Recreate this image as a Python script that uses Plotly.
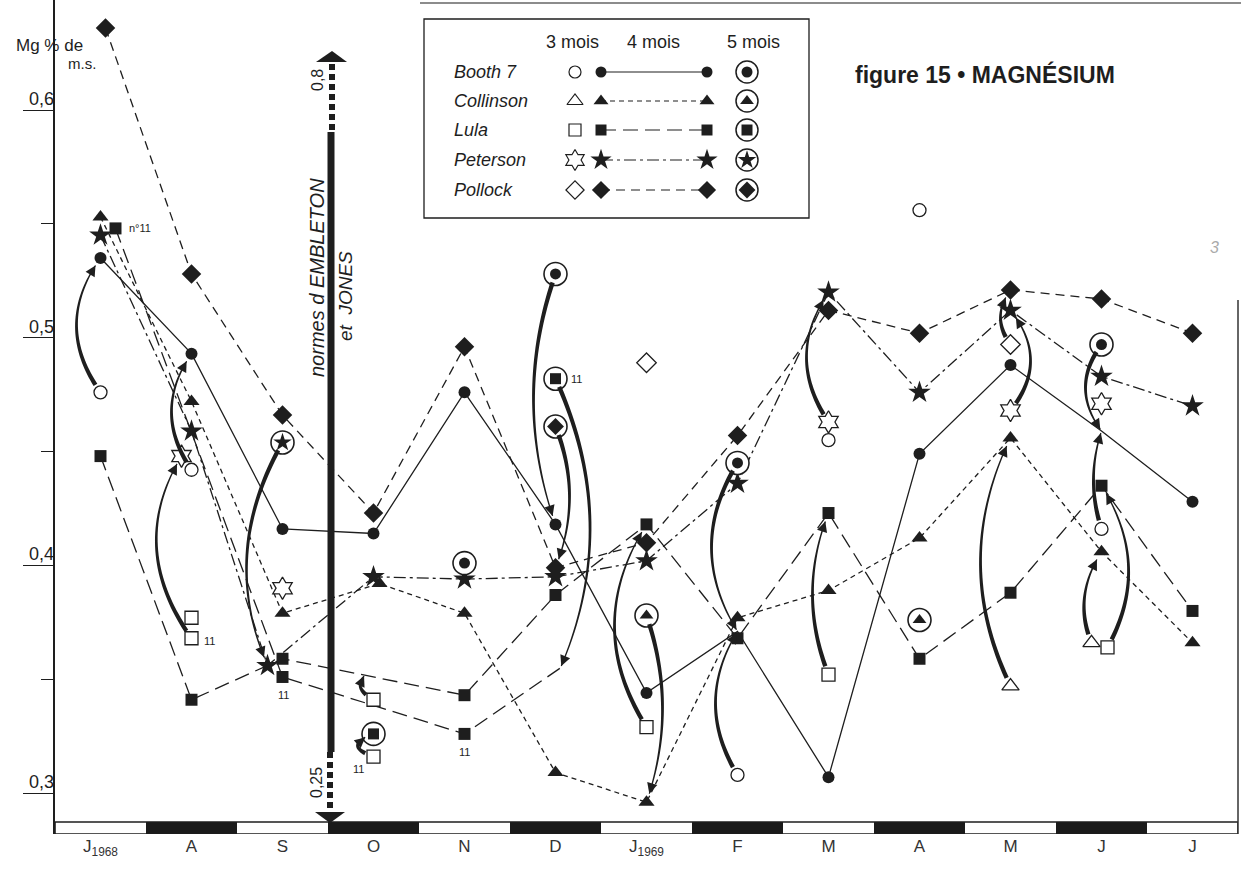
import numpy as np
import plotly.graph_objects as go

# ---------------- data ----------------
months = ["J<sub>1968</sub>", "A", "S", "O", "N", "D", "J<sub>1969</sub>",
          "F", "M", "A", "M", "J", "J"]
varieties = ["Booth 7", "Collinson", "Lula", "Peterson", "Pollock"]
age_labels = ["3 mois", "4 mois", "5 mois"]
ytick_vals = [0.3, 0.4, 0.5, 0.6]
ytick_text = ["0,3", "0,4", "0,5", "0,6"]
ytick_minor = [0.35, 0.45, 0.55]
norm_labels = ["0,25", "0,8"]

N = None
# 4 mois (connected lines)
booth_4 = [0.535, 0.493, 0.416, 0.414, 0.476, 0.418, 0.344, 0.371, 0.307, 0.449, 0.488, 0.459, 0.428]
collinson_4 = [0.553, 0.472, 0.379, 0.392, 0.379, 0.309, 0.296, 0.377, 0.389, 0.412, 0.456, 0.406, 0.366]
lula_4 = [0.448, 0.341, 0.359, N, 0.343, 0.387, 0.418, 0.368, 0.423, 0.359, 0.388, 0.435, 0.380]
lula11_4 = [0.548, N, 0.351, N, 0.326, 0.355, N, N, N, N, N, N, N]
peterson_4 = [0.545, 0.459, 0.356, 0.395, 0.394, 0.395, 0.402, 0.436, 0.520, 0.476, 0.512, 0.483, 0.470]
pollock_4 = [0.636, 0.528, 0.466, 0.423, 0.496, 0.399, 0.410, 0.457, 0.512, 0.502, 0.521, 0.517, 0.502]
# 3 mois (open symbols)
booth_3 = [0.476, 0.442, N, N, N, N, N, 0.308, 0.455, 0.556, N, 0.416, N]
collinson_3 = [N, N, N, N, N, N, N, N, N, N, 0.347, 0.366, N]
lula_3 = [N, 0.377, N, 0.341, N, N, 0.329, N, 0.352, N, N, 0.364, N]
lula11_3 = [N, 0.368, N, 0.316, N, N, N, N, N, N, N, N, N]
peterson_3 = [N, 0.448, 0.390, N, N, N, N, N, 0.463, N, 0.468, 0.471, N]
pollock_3 = [N, N, N, N, N, N, 0.489, N, N, N, 0.497, N, N]
# 5 mois (circled symbols)
booth_5 = [N, N, N, N, 0.401, 0.528, N, 0.445, N, N, N, 0.497, N]
collinson_5 = [N, N, N, N, N, N, 0.378, N, N, 0.376, N, N, N]
lula_5 = [N, N, N, 0.326, N, N, N, N, N, N, N, N, N]
lula11_5 = [N, N, N, N, N, 0.482, N, N, N, N, N, N, N]
peterson_5 = [N, N, 0.454, N, N, N, N, N, N, N, N, N, N]
pollock_5 = [N, N, N, N, N, 0.461, N, N, N, N, N, N, N]

DATA = {
    "booth_4": booth_4, "collinson_4": collinson_4, "lula_4": lula_4, "lula11_4": lula11_4,
    "peterson_4": peterson_4, "pollock_4": pollock_4,
    "booth_3": booth_3, "collinson_3": collinson_3, "lula_3": lula_3, "lula11_3": lula11_3,
    "peterson_3": peterson_3, "pollock_3": pollock_3,
    "booth_5": booth_5, "collinson_5": collinson_5, "lula_5": lula_5, "lula11_5": lula11_5,
    "peterson_5": peterson_5, "pollock_5": pollock_5,
}

# ---------------- geometry / style ----------------
W, H = 1241, 875
PL, PR, PT, PB = 55, 1238, 0, 834
PXM = (PR - PL) / 13.0
PXU = 2277.0
Y_TOP = 0.6 + 110 / PXU
Y_BOT = Y_TOP - (PB - PT) / PXU
INK = "#1e1e1e"
FONT = "Liberation Sans, Arial, sans-serif"

def vy(py):  # pixel row -> value
    return Y_TOP - (py - PT) / PXU

def xp(px):
    return (px - PL) / (PR - PL)

def yp(py):
    return 1 - (py - PT) / (PB - PT)

def txt(x, y, text, size=15, xref="paper", yref="paper", xanchor="center", color=INK, **kw):
    d = dict(x=x, y=y, xref=xref, yref=yref, text=text, showarrow=False,
             xanchor=xanchor, yanchor="middle", font=dict(size=size, color=color, family=FONT))
    d.update(kw)
    return d

# small horizontal nudges (px) as drawn in the original
NUDGE = {("lula11_4", 0): 15, ("pollock_4", 0): 5, ("peterson_4", 2): -15,
         ("peterson_3", 1): -10, ("collinson_3", 11): -10, ("lula_3", 11): 6,
         ("collinson_4", 3): 6, ("lula11_4", 5): 5}

def xof(key, i):
    return i + NUDGE.get((key, i), 0) / PXM

STYLE = {
    "booth":     dict(sym="circle", size=12, osize=13, isize=10, dash="solid"),
    "collinson": dict(sym="triangle-up", size=14, osize=15, isize=11, dash="5px,4px"),
    "lula":      dict(sym="square", size=12, osize=13, isize=10, dash="15px,7px"),
    "lula11":    dict(sym="square", size=12, osize=13, isize=10, dash="15px,7px"),
    "peterson":  dict(sym="star", size=17, osize=17, isize=13, dash="12px,4px,3px,4px"),
    "pollock":   dict(sym="diamond", size=15, osize=15, isize=12, dash="9px,6px"),
}
OPEN_SYM = {"circle": "circle", "triangle-up": "triangle-up", "square": "square",
            "star": "hexagram", "diamond": "diamond"}
HIDDEN = {("booth_4", 7), ("booth_4", 11), ("lula11_4", 5)}
SERIES = ["booth", "collinson", "lula", "lula11", "peterson", "pollock"]

fig = go.Figure()

# ---- 4 mois lines
for v in SERIES:
    key = v + "_4"
    arr = DATA[key]
    idx = [i for i, a in enumerate(arr) if a is not None]
    fig.add_trace(go.Scatter(x=[xof(key, i) for i in idx], y=[arr[i] for i in idx],
                             mode="lines", line=dict(color=INK, width=1.3, dash=STYLE[v]["dash"]),
                             hoverinfo="skip"))

# ---- 4 mois markers
for v in SERIES:
    key = v + "_4"
    arr = DATA[key]
    idx = [i for i, a in enumerate(arr) if a is not None and (key, i) not in HIDDEN]
    st = STYLE[v]
    fig.add_trace(go.Scatter(x=[xof(key, i) for i in idx], y=[arr[i] for i in idx],
                             mode="markers",
                             marker=dict(symbol=st["sym"], size=st["size"], color=INK,
                                         line=dict(width=0)), hoverinfo="skip"))

# ---- 3 mois (open)
for v in SERIES:
    key = v + "_3"
    arr = DATA[key]
    idx = [i for i, a in enumerate(arr) if a is not None]
    st = STYLE[v]
    fig.add_trace(go.Scatter(x=[xof(key, i) for i in idx], y=[arr[i] for i in idx],
                             mode="markers",
                             marker=dict(symbol=OPEN_SYM[st["sym"]], size=st["osize"], color="white",
                                         line=dict(width=1.3, color=INK)), hoverinfo="skip"))

# ---- 5 mois (circled)
for v in SERIES:
    key = v + "_5"
    arr = DATA[key]
    idx = [i for i, a in enumerate(arr) if a is not None]
    st = STYLE[v]
    xs = [xof(key, i) for i in idx]
    ys = [arr[i] for i in idx]
    fig.add_trace(go.Scatter(x=xs, y=ys, mode="markers",
                             marker=dict(symbol="circle", size=23, color="white",
                                         line=dict(width=1.6, color=INK)), hoverinfo="skip"))
    fig.add_trace(go.Scatter(x=xs, y=ys, mode="markers",
                             marker=dict(symbol=st["sym"], size=st["isize"] + 1, color=INK,
                                         line=dict(width=0)), hoverinfo="skip"))

# ---------------- curved, tapered arrows (3/5 mois -> 4 mois) ----------------
ARROWS = [
    dict(m=0, src="booth_3", dst="booth_4", bulge=-24),
    dict(m=1, src="booth_3", dst="booth_4", bulge=-20),
    dict(m=1, src="lula11_3", dst="peterson_3", bulge=-30),
    dict(m=2, src="peterson_5", dst="peterson_4", bulge=-28),
    dict(m=3, src="lula_3", dst=(0.352, -8), bulge=-9),
    dict(m=3, src="lula11_3", dst="lula_5", bulge=-16),
    dict(m=5, src="booth_5", dst="booth_4", bulge=-22),
    dict(m=5, src="lula11_5", dst="lula11_4", bulge=32),
    dict(m=5, src="pollock_5", dst="pollock_4", bulge=14),
    dict(m=6, src="collinson_5", dst="collinson_4", bulge=16),
    dict(m=6, src="lula_3", dst="lula_4", bulge=-32),
    dict(m=7, src="booth_3", dst="booth_4", bulge=-22),
    dict(m=7, src="booth_5", dst="booth_4", bulge=-26),
    dict(m=8, src="peterson_3", dst="peterson_4", bulge=-22),
    dict(m=8, src="lula_3", dst="lula_4", bulge=-16),
    dict(m=10, src="collinson_3", dst="collinson_4", bulge=-30),
    dict(m=10, src="pollock_3", dst="pollock_4", bulge=-10),
    dict(m=10, src="peterson_3", dst="peterson_4", bulge=20),
    dict(m=11, src="booth_5", dst="booth_4", bulge=-16),
    dict(m=11, src="booth_3", dst="booth_4", bulge=-8),
    dict(m=11, src="collinson_3", dst="collinson_4", bulge=-12),
    dict(m=11, src="lula_3", dst="lula_4", bulge=24),
]

def bez(P0, C, P2, t):
    t = np.atleast_1d(t)[:, None]
    return (1 - t) ** 2 * P0 + 2 * (1 - t) * t * C + t ** 2 * P2

def dbez(P0, C, P2, t):
    t = np.atleast_1d(t)[:, None]
    return 2 * (1 - t) * (C - P0) + 2 * t * (P2 - C)

shapes = []
annotations = []
for a in ARROWS:
    m = a["m"]
    x0 = xof(a["src"], m); v0 = DATA[a["src"]][m]
    if isinstance(a["dst"], tuple):
        v1 = a["dst"][0]; x1 = m + a["dst"][1] / PXM; end_trim = 2
    else:
        x1 = xof(a["dst"], m); v1 = DATA[a["dst"]][m]
        end_trim = 2 if (a["dst"], m) in HIDDEN else 9
    P0 = np.array([x0 * PXM, v0 * PXU]); P2 = np.array([x1 * PXM, v1 * PXU])
    C = (P0 + P2) / 2 + np.array([2 * a["bulge"], 0.0])
    tt = np.linspace(0, 1, 300)
    pts = bez(P0, C, P2, tt)
    s = np.concatenate([[0], np.cumsum(np.hypot(*np.diff(pts, axis=0).T))])
    L = s[-1]
    s0, s1 = 9, L - end_trim
    ts = np.interp(np.linspace(s0, s1, 40), s, tt)
    p = bez(P0, C, P2, ts)
    d = dbez(P0, C, P2, ts)
    nrm = np.stack([-d[:, 1], d[:, 0]], axis=1)
    nrm /= np.linalg.norm(nrm, axis=1)[:, None]
    w = np.linspace(4.4, 1.2, len(ts))[:, None]
    left = p + nrm * w / 2
    right = p - nrm * w / 2
    poly = np.vstack([left, right[::-1]])
    path = "M " + " L ".join(f"{q[0] / PXM:.5f},{q[1] / PXU:.6f}" for q in poly) + " Z"
    shapes.append(dict(type="path", path=path, xref="x", yref="y",
                       fillcolor=INK, line=dict(width=0), layer="above"))
    tb = np.interp(s1 - 10, s, tt)
    back = bez(P0, C, P2, tb)[0]
    tip = p[-1]
    annotations.append(dict(x=tip[0] / PXM, y=tip[1] / PXU, ax=back[0] / PXM, ay=back[1] / PXU,
                            xref="x", yref="y", axref="x", ayref="y", text="", showarrow=True,
                            arrowhead=2, arrowsize=1.5, arrowwidth=1.4, arrowcolor=INK, standoff=0))

# ---------------- "11" labels ----------------
LABEL11 = [("lula11_4", 0, "n°11", 24, 0), ("lula11_3", 1, "11", 18, 3),
           ("lula11_4", 2, "11", 1, 18), ("lula11_3", 3, "11", -15, 12),
           ("lula11_4", 4, "11", 0, 18), ("lula11_5", 5, "11", 21, 0)]
for key, i, t, dx, dy in LABEL11:
    annotations.append(txt(xof(key, i) + dx / PXM, DATA[key][i] - dy / PXU, t, size=11,
                           xref="x", yref="y"))

# ---------------- month band under the x axis ----------------
for i in range(len(months)):
    shapes.append(dict(type="rect", xref="x", yref="y", x0=i - 0.5, x1=i + 0.5,
                       y0=vy(834), y1=vy(822), fillcolor=("white" if i % 2 == 0 else "#1a1a1a"),
                       line=dict(width=0), layer="above"))
shapes.append(dict(type="rect", xref="x", yref="y", x0=-0.5, x1=12.5, y0=vy(834), y1=vy(822),
                   line=dict(width=1.6, color=INK), layer="above"))

# ---------------- y tick labels (written above their tick lines) ----------------
for v, t in zip(ytick_vals, ytick_text):
    annotations.append(txt(xp(41), v, t, size=18, yref="y", yshift=11))

annotations.append(txt(xp(49), yp(45), "Mg % de", size=17))
annotations.append(txt(xp(82), yp(64), "m.s.", size=15))

# ---------------- EMBLETON & JONES norm axis ----------------
NX = 331
def px_shape(**kw):
    d = dict(xref="paper", yref="paper")
    d.update(kw)
    return d
def ppath(pts):
    return "M " + " L ".join(f"{xp(a):.5f},{yp(b):.5f}" for a, b in pts) + " Z"

shapes.append(px_shape(type="path", path=ppath([(316, 62), (347, 62), (332, 51)]),
                       fillcolor=INK, line=dict(width=0)))
shapes.append(px_shape(type="line", x0=xp(NX + 1), x1=xp(NX + 1), y0=yp(64), y1=yp(132),
                       line=dict(color=INK, width=6, dash="6px,4px")))
shapes.append(px_shape(type="line", x0=xp(NX), x1=xp(NX), y0=yp(132), y1=yp(752),
                       line=dict(color=INK, width=7)))
shapes.append(px_shape(type="line", x0=xp(NX - 1), x1=xp(NX - 1), y0=yp(752), y1=yp(810),
                       line=dict(color=INK, width=6, dash="6px,4px")))
shapes.append(px_shape(type="path", path=ppath([(315, 812), (345, 812), (330, 823)]),
                       fillcolor=INK, line=dict(width=0)))
annotations.append(txt(xp(318), yp(80), norm_labels[1], size=16, textangle=-90))
annotations.append(txt(xp(316), yp(783), norm_labels[0], size=16, textangle=-90))
annotations.append(txt(xp(317), yp(278), "<i>normes d EMBLETON</i>", size=20, textangle=-90))
annotations.append(txt(xp(345), yp(296), "<i>et  JONES</i>", size=19, textangle=-90))

# frame fragments of the original plate
shapes.append(px_shape(type="line", x0=xp(420), x1=xp(1241), y0=yp(3), y1=yp(3),
                       line=dict(color="#666", width=1.5)))
shapes.append(px_shape(type="line", x0=xp(1238), x1=xp(1238), y0=yp(300), y1=yp(834),
                       line=dict(color="#333", width=1.5)))

# ---------------- title ----------------
annotations.append(txt(xp(853), yp(74), "figure 15 • MAGNÉSIUM", xanchor="left",
                       font=dict(size=23, color=INK, family=FONT, weight="bold")))
annotations.append(txt(xp(1214), yp(248), "<i>3</i>", size=16, color="#aaa"))

# ---------------- custom legend (3 columns of symbols) ----------------
LX0, LX1, LY0, LY1 = 424, 809, 19, 218
shapes.append(px_shape(type="rect", x0=xp(LX0), x1=xp(LX1), y0=yp(LY0), y1=yp(LY1),
                       line=dict(color=INK, width=1.3), fillcolor="white", layer="below"))
for t, cx in zip(age_labels, [572, 653, 753]):
    annotations.append(txt(xp(cx), yp(42), t, size=18))
leg_keys = ["booth", "collinson", "lula", "peterson", "pollock"]
leg_rows = [72, 101, 130, 160, 190]
for name, v, ry in zip(varieties, leg_keys, leg_rows):
    st = STYLE[v]
    annotations.append(txt(xp(452), yp(ry), f"<i>{name}</i>", size=18, xanchor="left"))
    fig.add_trace(go.Scatter(x=[601, 707], y=[ry, ry], xaxis="x2", yaxis="y2", mode="lines+markers",
                             line=dict(color=INK, width=1.2, dash=st["dash"]),
                             marker=dict(symbol=st["sym"], size=st["size"] - 1, color=INK),
                             hoverinfo="skip"))
    fig.add_trace(go.Scatter(x=[575], y=[ry], xaxis="x2", yaxis="y2", mode="markers",
                             marker=dict(symbol=OPEN_SYM[st["sym"]], size=st["osize"] - 1, color="white",
                                         line=dict(width=1.2, color=INK)), hoverinfo="skip"))
    fig.add_trace(go.Scatter(x=[747], y=[ry], xaxis="x2", yaxis="y2", mode="markers",
                             marker=dict(symbol="circle", size=22, color="white",
                                         line=dict(width=1.5, color=INK)), hoverinfo="skip"))
    fig.add_trace(go.Scatter(x=[747], y=[ry], xaxis="x2", yaxis="y2", mode="markers",
                             marker=dict(symbol=st["sym"], size=st["isize"] + 1, color=INK),
                             hoverinfo="skip"))

fig.update_layout(
    width=W, height=H, margin=dict(l=PL, r=W - PR, t=PT, b=H - PB),
    paper_bgcolor="white", plot_bgcolor="rgba(0,0,0,0)", showlegend=False,
    font=dict(family=FONT, color=INK),
    xaxis=dict(range=[-0.5, 12.5], tickvals=list(range(len(months))), ticktext=months,
               showgrid=False, zeroline=False, showline=False, ticks="",
               tickfont=dict(size=17, color="#333"), fixedrange=True),
    yaxis=dict(range=[Y_BOT, Y_TOP], tickvals=ytick_vals, showticklabels=False,
               ticks="outside", ticklen=30, tickwidth=1.4, tickcolor=INK,
               minor=dict(tickvals=ytick_minor, ticks="outside", ticklen=12, tickwidth=1.4, tickcolor=INK),
               showgrid=False, zeroline=False, showline=True, linewidth=2, linecolor=INK,
               fixedrange=True),
    xaxis2=dict(range=[PL, PR], overlaying="x", visible=False, fixedrange=True),
    yaxis2=dict(range=[PB, PT], overlaying="y", visible=False, fixedrange=True),
    shapes=shapes, annotations=annotations,
)

fig.write_html("out.html", config={"displayModeBar": False},
               post_script="document.body.style.margin='0';")
